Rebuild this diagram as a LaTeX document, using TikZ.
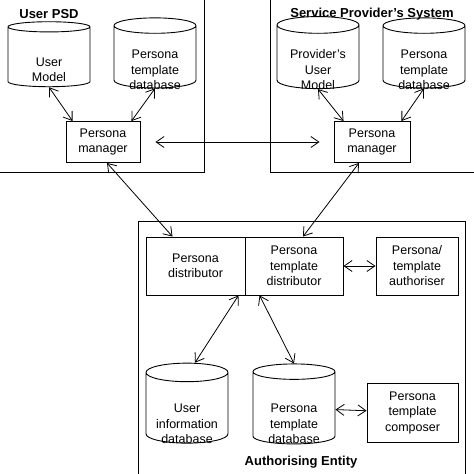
\documentclass[tikz,border=0pt]{standalone}
\usepackage{fontspec}
\setmainfont{Liberation Sans}
\usepackage{tikz}
\usetikzlibrary{shapes.geometric, arrows.meta}
% text sits low in the drum
\newcommand{\dblabel}[2][14pt]{\raisebox{-#1}[\height][\depth]{\begin{tabular}{@{}c@{}}#2\end{tabular}}}
\tikzstyle{database} = [
	cylinder,
	shape border rotate=90,
	aspect=0.3,
	minimum width=82pt,
	minimum height=65pt,
	inner sep=0pt,
	align=center,
	draw=black,
	line width=0.9pt
]
\tikzstyle{process} = [
	rectangle,
	minimum height=41pt,
	text centered,
	align=center,
	draw=black,
	line width=0.9pt
]
\tikzstyle{frame} = [draw=black, line width=1pt]
\tikzstyle{title} = [font=\fontsize{13}{15.5}\selectfont\bfseries]
\tikzstyle{arrow} = [line width=0.8pt, {Straight Barb[length=8pt, width=11pt]}-{Straight Barb[length=8pt, width=11pt]}]

\begin{document}
\begin{tikzpicture}[x=1pt, y=-1pt, font=\fontsize{12.5}{15.5}\selectfont]
            \useasboundingbox (0,0) rectangle (474,474);
            % frames
            \draw [frame] (-5,-5) rectangle (204,172);
            \draw [frame] (270,-5) rectangle (480,172);
            \draw [frame] (138,221) rectangle (465,480);
            \node (psdtitle) [title] at (49,14) {User PSD};
            \node (spstitle) [title] at (372,14) {Service Provider's System};
            \node (aetitle) [title] at (301,462) {Authorising Entity};
            % user PSD
            \node (umodel) [database] at (49,57) {\dblabel{User\\Model}};
            \node (udb) [database] at (155,57) {\dblabel{Persona\\template\\database}};
            \node (pman) [process, minimum width=74pt] at (103,142) {Persona\\manager};
            % service provider
            \node (pmodel) [database] at (318,57) {\dblabel{Provider's\\User\\Model}};
            \node (sdb) [database] at (424,57) {\dblabel{Persona\\template\\database}};
            \node (sman) [process, minimum width=76pt] at (372,142) {Persona\\manager};
            % authorising entity
            \node (pdist) [process, minimum width=99pt, minimum height=58pt] at (195.5,266) {Persona\\distributor};
            \node (ptdist) [process, minimum width=98pt, minimum height=58pt, right of=pdist, node distance=98.5pt] {Persona\\template\\distributor};
            \node (auth) [process, minimum width=82pt, minimum height=58pt] at (417,266) {Persona/\\template\\authoriser};
            \node (uidb) [database, minimum height=80pt] at (187,408) {\dblabel[17pt]{User\\information\\database}};
            \node (ptdb) [database, minimum height=80pt] at (294,408) {\dblabel[17pt]{Persona\\template\\database}};
            \node (comp) [process, minimum width=91pt, minimum height=59pt] at (412.5,412.5) {Persona\\template\\composer};
            % connectors
            \draw [arrow] (umodel.south) -- ([xshift=7pt]pman.north west);
            \draw [arrow] (udb.south) -- ([xshift=-9pt]pman.north east);
            \draw [arrow] (pmodel.south) -- ([xshift=10pt]sman.north west);
            \draw [arrow] (sdb.south) -- ([xshift=-9pt]sman.north east);
            \draw [arrow, shorten <=15pt, shorten >=14pt] (pman) -- (sman);
            \draw [arrow] ([xshift=4pt]pman.south) -- ([xshift=-23pt]pdist.north);
            \draw [arrow] ([xshift=-13pt]sman.south) -- ([xshift=9pt]ptdist.north);
            \draw [arrow] (ptdist) -- (auth);
            \draw [arrow] ([xshift=-7pt]pdist.south east) -- ([xshift=8pt]uidb.north);
            \draw [arrow] ([xshift=15pt]ptdist.south west) -- (ptdb.north);
            \draw [arrow] (ptdb) -- (comp);
          \end{tikzpicture}
\end{document}
